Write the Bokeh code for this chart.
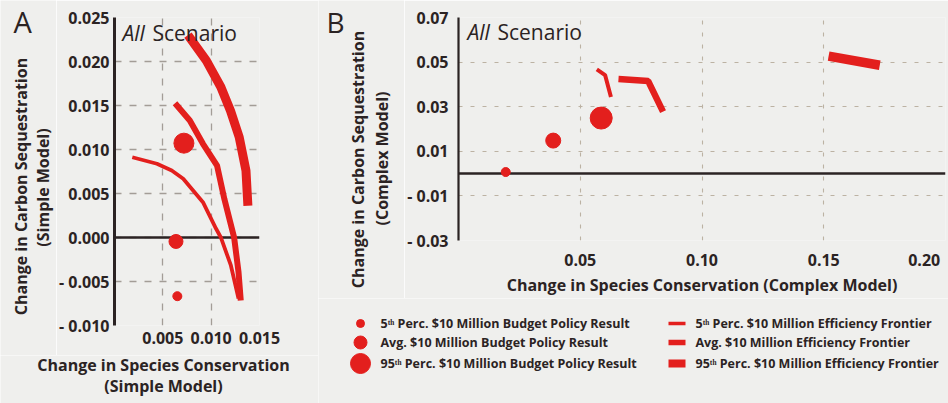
import math
from bokeh.plotting import figure
from bokeh.models import Range1d, FixedTicker, CustomJSTickFormatter, Span, Label
from bokeh.layouts import row, column
from bokeh.core.properties import value
from bokeh.embed import file_html
from bokeh.resources import INLINE

# ---------------- data: panel A (simple model) ----------------
a_dot_x = [0.0065, 0.00636, 0.00718]          # 5th perc., avg., 95th perc. budget policy result
a_dot_y = [-0.00667, -0.00045, 0.01072]
a_f5_x = [0.00184, 0.00439, 0.00592, 0.00711, 0.00915, 0.01051, 0.01102, 0.01204, 0.01283]
a_f5_y = [0.00912, 0.00838, 0.00761, 0.00667, 0.00401, 0.00099, -0.00003, -0.00318, -0.00693]
a_favg_x = [0.00626, 0.00779, 0.00915, 0.01061, 0.01136, 0.01238, 0.01283, 0.01306]
a_favg_y = [0.01526, 0.01330, 0.01065, 0.00818, 0.00440, -0.00003, -0.00394, -0.00716]
a_f95_x = [0.0076, 0.0095, 0.0110, 0.0120, 0.0129, 0.0136, 0.0138]
a_f95_y = [0.0230, 0.0201, 0.0171, 0.0144, 0.0114, 0.0076, 0.0036]

# ---------------- data: panel B (complex model) ----------------
b_dot_x = [0.0194, 0.0389, 0.0586]
b_dot_y = [0.0007, 0.0148, 0.0249]
b_f5_x = [0.0568, 0.0602, 0.0626]
b_f5_y = [0.0467, 0.0442, 0.0343]
b_favg_x = [0.0657, 0.0779, 0.0840]
b_favg_y = [0.0424, 0.0415, 0.0278]
b_f95_x = [0.1520, 0.1730]
b_f95_y = [0.0527, 0.0486]

# ---------------- ticks ----------------
a_xticks = [0.005, 0.010, 0.015]
a_yticks = [-0.010, -0.005, 0.0, 0.005, 0.010, 0.015, 0.020, 0.025]
b_xticks = [0.05, 0.10, 0.15, 0.20]
b_yticks = [-0.03, -0.01, 0.01, 0.03, 0.05, 0.07]

# ---------------- titles / legend texts ----------------
a_ytitle = ["Change in Carbon Sequestration", "(Simple Model)"]
a_xtitle = ["Change in Species Conservation", "(Simple Model)"]
b_ytitle = ["Change in Carbon Sequestration", "(Complex Model)"]
b_xtitle = "Change in Species Conservation (Complex Model)"
scenario = ["All", "Scenario"]
leg_dot_labels = ["5\u1d57\u02b0 Perc. $10 Million Budget Policy Result",
                  "Avg. $10 Million Budget Policy Result",
                  "95\u1d57\u02b0 Perc. $10 Million Budget Policy Result"]
leg_line_labels = ["5\u1d57\u02b0 Perc. $10 Million Efficiency Frontier",
                   "Avg. $10 Million Efficiency Frontier",
                   "95\u1d57\u02b0 Perc. $10 Million Efficiency Frontier"]

# ---------------- styles ----------------
RED = "#e31f1d"
INK = "#2b2323"
PAPER = "#efefed"
FONT = "Open Sans"
dot_sizes_a = [9, 14, 20]
dot_sizes_b = [9, 15, 22]
leg_dot_sizes = [8, 13, 20]
leg_line_widths = [3.5, 5.5, 8]


def base_fig(w, h, xr, yr, ml, mr, mt, mb):
    p = figure(width=w, height=h, x_range=Range1d(*xr), y_range=Range1d(*yr),
               output_backend="svg", toolbar_location=None,
               min_border_left=ml, min_border_right=mr, min_border_top=mt, min_border_bottom=mb)
    p.background_fill_color = PAPER
    p.border_fill_color = PAPER
    p.outline_line_color = None
    p.frame_align = False
    return p


def strip(x0, y0, w, h):
    """A plain text canvas covering page pixels [x0, x0+w] x [y0, y0+h] (y stored negated)."""
    p = figure(width=w, height=h, x_range=Range1d(x0, x0 + w), y_range=Range1d(-(y0 + h), -y0),
               output_backend="svg", toolbar_location=None, x_axis_type=None, y_axis_type=None,
               min_border=0)
    p.background_fill_color = PAPER
    p.border_fill_color = PAPER
    p.outline_line_color = None
    p.grid.visible = False
    p.frame_align = False
    return p


def put(p, ix, iy, text, size, style="bold", align="center", baseline="middle", angle=0.0):
    p.text([ix], [-iy], text=[text], angle=angle, text_font=value(FONT), text_font_size=size,
           text_font_style=style, text_color=INK, text_align=align, text_baseline=baseline)


def style_axes(p, xcode, ycode, xstand, ystand, ylw, grid_color, grid_dash, grid_w):
    for ax, code in ((p.xaxis[0], xcode), (p.yaxis[0], ycode)):
        ax.formatter = CustomJSTickFormatter(code=code)
        ax.major_label_text_font = FONT
        ax.major_label_text_font_size = "16px"
        ax.major_label_text_font_style = "bold"
        ax.major_label_text_color = INK
        ax.major_tick_line_color = None
        ax.minor_tick_line_color = None
        ax.major_tick_out = 0
        ax.major_tick_in = 0
    p.xaxis.axis_line_color = None
    p.xaxis.major_label_standoff = xstand
    p.yaxis.axis_line_color = INK
    p.yaxis.axis_line_width = ylw
    p.yaxis.major_label_standoff = ystand
    for g in (p.xgrid[0], p.ygrid[0]):
        g.grid_line_color = grid_color
        g.grid_line_dash = grid_dash
        g.grid_line_width = grid_w
    p.add_layout(Span(location=0, dimension="width", line_color=INK, line_width=2.5, level="underlay"))


def frame_label(p, sx, sy, text, size, style="normal"):
    p.add_layout(Label(x=sx, y=sy, x_units="screen", y_units="screen", text=text,
                       text_font=FONT, text_font_size=size, text_font_style=style,
                       text_color=INK, text_align="left", text_baseline="middle"))


Y_FMT = """const s = Math.abs(tick).toFixed(%d); return tick < -1e-12 ? "- " + s : s;"""
A_X_FMT = """return tick.toFixed(3);"""
B_X_FMT = """const s = tick.toFixed(2); return tick > 0.1999 ? s + "\\u00a0".repeat(2) : s;"""

# ================= Panel A (page x 56..318, y 0..355) =================
SA_W = 56
A_W, A_H, A_ML, A_MT, A_FW, A_FH = 262, 355, 56, 17, 147, 308
pA = base_fig(A_W, A_H, (0, 0.015), (-0.010, 0.025), A_ML, A_W - A_ML - A_FW, A_MT, A_H - A_MT - A_FH)
pA.xaxis.ticker = FixedTicker(ticks=a_xticks)
pA.yaxis.ticker = FixedTicker(ticks=a_yticks)
style_axes(pA, A_X_FMT, Y_FMT % 3, 6, 5, 3, "#a39d97", "7 8", 1.3)

pA.line(a_f95_x, a_f95_y, line_color=RED, line_width=9, line_cap="butt", line_join="round")
pA.line(a_favg_x, a_favg_y, line_color=RED, line_width=6, line_cap="butt", line_join="round")
pA.line(a_f5_x, a_f5_y, line_color=RED, line_width=3.8, line_cap="butt", line_join="round")
pA.scatter(a_dot_x, a_dot_y, size=dot_sizes_a, color=RED)
frame_label(pA, 8, A_FH - 15, scenario[0], "21px", "italic")
frame_label(pA, 38, A_FH - 15, scenario[1], "21px")

sA = strip(0, 0, SA_W, A_H)
put(sA, 13, 21, "A", "29px", style="normal", align="left")
put(sA, 20, 186, a_ytitle[0], "16px", angle=math.pi / 2)
put(sA, 42, 187, a_ytitle[1], "16px", angle=math.pi / 2)

xA = strip(0, A_H, SA_W + A_W, 403 - A_H)
put(xA, 163, 364, a_xtitle[0], "16px")
put(xA, 163, 385, a_xtitle[1], "16px")

# ================= Panel B (page x 404..948, y 0..298) =================
OX_B = SA_W + A_W
SB_W = 86
B_W, B_H, B_ML, B_MT, B_FW = 630 - SB_W, 298, 52, 17, 489
pB = base_fig(B_W, B_H, (0, 0.20), (-0.03, 0.07), B_ML, B_W - B_ML - B_FW, B_MT, 56)
pB.xaxis.ticker = FixedTicker(ticks=b_xticks)
pB.yaxis.ticker = FixedTicker(ticks=b_yticks)
style_axes(pB, B_X_FMT, Y_FMT % 2, 8, 10, 2.2, "#bcb2a3", "4 8", 1.1)
pB.xaxis.axis_label = b_xtitle
pB.xaxis.axis_label_standoff = 0
pB.xaxis.axis_label_text_font = FONT
pB.xaxis.axis_label_text_font_size = "16px"
pB.xaxis.axis_label_text_font_style = "bold"
pB.xaxis.axis_label_text_color = INK

pB.line(b_f95_x, b_f95_y, line_color=RED, line_width=9.5, line_cap="butt")
pB.line(b_favg_x, b_favg_y, line_color=RED, line_width=6.5, line_cap="butt")
pB.line(b_f5_x, b_f5_y, line_color=RED, line_width=4, line_cap="butt")
pB.scatter(b_dot_x, b_dot_y, size=dot_sizes_b, color=RED)
frame_label(pB, 9, 225 - 16, scenario[0], "21px", "italic")
frame_label(pB, 39, 225 - 16, scenario[1], "21px")

sB = strip(OX_B, 0, SB_W, B_H)
put(sB, 326, 21, "B", "28px", style="normal", align="left")
put(sB, 357, 159, b_ytitle[0], "16px", angle=math.pi / 2)
put(sB, 381, 158, b_ytitle[1], "16px", angle=math.pi / 2)

# ================= Legend (page x 318..948, y 298..403) =================
L_X0, L_Y0, L_W, L_H = OX_B, B_H, 630, 403 - B_H
pL = strip(L_X0, L_Y0, L_W, L_H)
row_y = [-323, -342, -363]
dot_col_x, dot_text_x = L_X0 + 42, L_X0 + 62
line_col_x0, line_col_x1, line_text_x = L_X0 + 350, L_X0 + 367, L_X0 + 377
pL.scatter([dot_col_x] * 3, row_y, size=leg_dot_sizes, color=RED)
pL.text([dot_text_x] * 3, row_y, text=leg_dot_labels, text_font=value(FONT), text_font_size="12.5px",
        text_font_style="bold", text_color=INK, text_baseline="middle", text_align="left")
pL.segment([line_col_x0] * 3, row_y, [line_col_x1] * 3, row_y, line_width=leg_line_widths,
           line_color=RED, line_cap="butt")
pL.text([line_text_x] * 3, row_y, text=leg_line_labels, text_font=value(FONT), text_font_size="12.5px",
        text_font_style="bold", text_color=INK, text_baseline="middle", text_align="left")

left = column(row(sA, pA, spacing=0), xA, spacing=0)
right = column(row(sB, pB, spacing=0), pL, spacing=0)
layout = row(left, right, spacing=0)
open("out.html", "w").write(file_html(layout, INLINE))
